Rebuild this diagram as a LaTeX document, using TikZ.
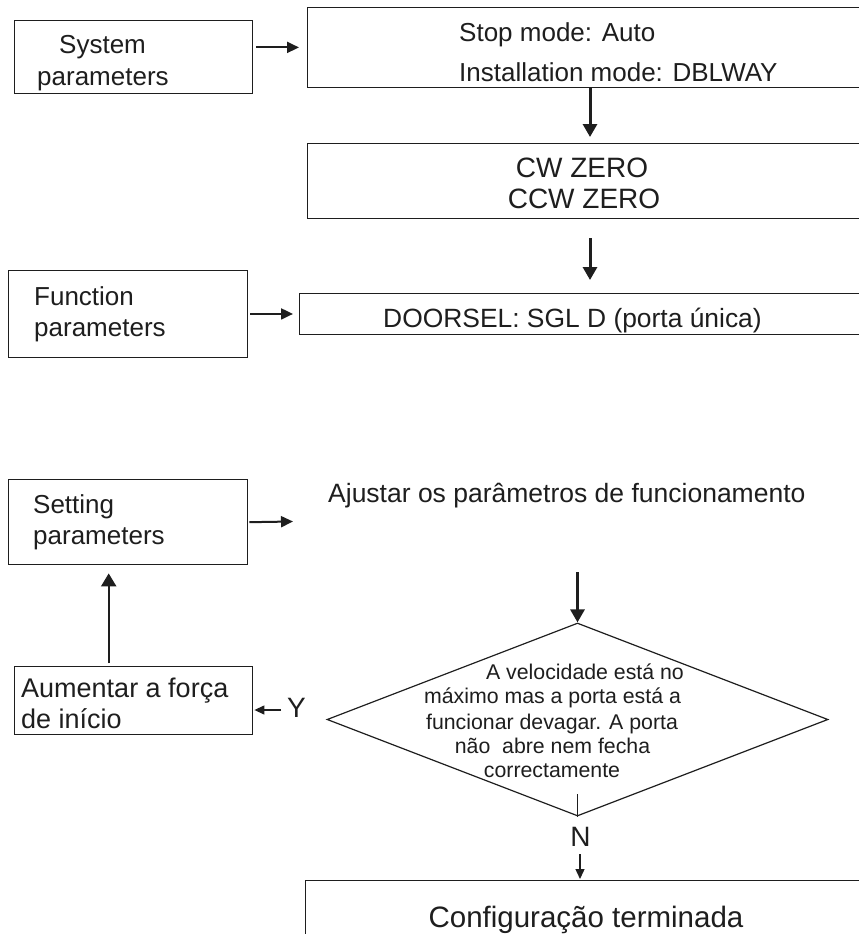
\documentclass[tikz,border=0pt]{standalone}
\usepackage{fontspec}
\setmainfont{Liberation Sans}
\usetikzlibrary{shapes.geometric,arrows.meta}
\definecolor{ink}{HTML}{1E1E1E}
\begin{document}
\begin{tikzpicture}[x=1pt,y=-1pt,
  box/.style={draw=ink, line width=1.4pt, rectangle, inner sep=0pt, anchor=north west},
  txt/.style={inner sep=0pt, text=ink},
  fa/.style={font=\fontsize{26}{30}\selectfont},
  fb/.style={font=\fontsize{28}{32}\selectfont},
  fc/.style={font=\fontsize{21.3}{24.5}\selectfont},
  arr/.style={draw=ink, line width=2pt, -{Triangle[length=12pt,width=11pt]}},
  thickarr/.style={draw=ink, line width=3pt, -{Triangle[length=13pt,width=14pt]}},
  uparr/.style={draw=ink, line width=2.2pt, -{Triangle[length=13pt,width=15pt]}},
  thinarr/.style={draw=ink, line width=1.3pt, -{Triangle[length=10pt,width=9pt]}},
]
\clip (0,0) rectangle (859,934);
\fill[white] (0,0) rectangle (859,934);

% boxes
\node[box, minimum width=238pt, minimum height=73pt] (sys) at (14,20) {};
\node[box, minimum width=600pt, minimum height=80pt] (stopbox) at (307,7) {};
\node[box, minimum width=600pt, minimum height=75pt] (cw) at (307,143) {};
\node[box, minimum width=239pt, minimum height=86.5pt] (fun) at (8,270) {};
\node[box, minimum width=600pt, minimum height=41pt] (door) at (299,292.5) {};
\node[box, minimum width=239pt, minimum height=85pt] (set) at (8,479) {};
\node[box, minimum width=238pt, minimum height=68pt] (aum) at (14,666) {};
\node[draw=ink, line width=1.2pt, diamond, minimum width=501pt, minimum height=193pt, inner sep=0pt] (dia) at (577.5,719.5) {};
\node[box, minimum width=600pt, minimum height=100pt] (conf) at (305,880) {};

% texts
\node[txt, fa, anchor=base west] (sys1) at (59,53) {System};
\node[txt, fa, anchor=base west] (sys2) at (37,85) {parameters};
\node[txt, fa, anchor=base west] (st1) at (459,42) {Stop mode: Auto};
\node[txt, fa, anchor=base west] (st2) at (459,81.5) {Installation mode: DBLWAY};
\node[txt, fb, anchor=base] (cw1) at (582,177) {CW ZERO};
\node[txt, fb, anchor=base] (cw2) at (584,208) {CCW ZERO};
\node[txt, fa, anchor=base west] (fun1) at (34,305) {Function};
\node[txt, fa, anchor=base west] (fun2) at (34,336) {parameters};
\node[txt, font=\fontsize{26.4}{30}\selectfont, anchor=base west] (door1) at (383,327) {DOORSEL: SGL D (porta única)};
\node[txt, fa, anchor=base west] (set1) at (33,513) {Setting};
\node[txt, fa, anchor=base west] (set2) at (33,544) {parameters};
\node[txt, font=\fontsize{26.5}{30}\selectfont, anchor=base west] (aj) at (328,502) {Ajustar os parâmetros de funcionamento};
\node[txt, fc, anchor=base] (d1) at (585,679) {A velocidade está no};
\node[txt, fc, anchor=base] (d2) at (552.5,703) {máximo mas a porta está a};
\node[txt, fc, anchor=base] (d3) at (552,729) {funcionar devagar. A porta};
\node[txt, fc, anchor=base] (d4) at (552.5,753) {não\ \ abre nem fecha};
\node[txt, fc, anchor=base] (d5) at (552,777) {correctamente};
\node[txt, font=\fontsize{27}{31}\selectfont, anchor=base west] (aum1) at (21,697) {Aumentar a força};
\node[txt, font=\fontsize{27}{31}\selectfont, anchor=base west] (aum2) at (21,728) {de início};
\node[txt, fb, anchor=base west] (ylab) at (287,717) {Y};
\node[txt, fb, anchor=base] (nlab) at (580.5,846) {N};
\node[txt, font=\fontsize{29.5}{34}\selectfont, anchor=base] (conf1) at (586,927) {Configuração terminada};

% connectors
\coordinate (ax) at (590,0);
\draw[arr, shorten <=3pt, shorten >=8pt] ([yshift=9.8pt]sys.east) -- ([yshift=9.8pt]sys.east -| stopbox.west);
\draw[thickarr, shorten >=6pt] (stopbox.south -| ax) -- (cw.north -| ax);
\draw[thickarr, shorten <=19pt, shorten >=12.5pt] (cw.south -| ax) -- (door.north -| ax);
\draw[arr, shorten <=2pt, shorten >=6pt] (fun.east) -- (fun.east -| door.west);
\coordinate (sa) at (293,521.5);
\draw[arr, shorten <=1pt] (set.east) -- (sa);
\coordinate (da) at (577.5,572);
\draw[thickarr] (da) -- (dia.north);
\draw[uparr, shorten <=3pt, shorten >=8pt] ([xshift=-25pt]aum.north) -- ([xshift=-25pt]aum.north |- set.south);
\coordinate (yt) at (281,710);
\draw[thinarr, shorten >=1pt] (yt) -- (yt -| aum.east);
\draw[draw=ink, line width=1.4pt] (dia.south) -- ++(0,-23);
\coordinate (nt) at (580,854);
\draw[thinarr, shorten >=1pt] (nt) -- (nt |- conf.north);
\end{tikzpicture}
\end{document}
